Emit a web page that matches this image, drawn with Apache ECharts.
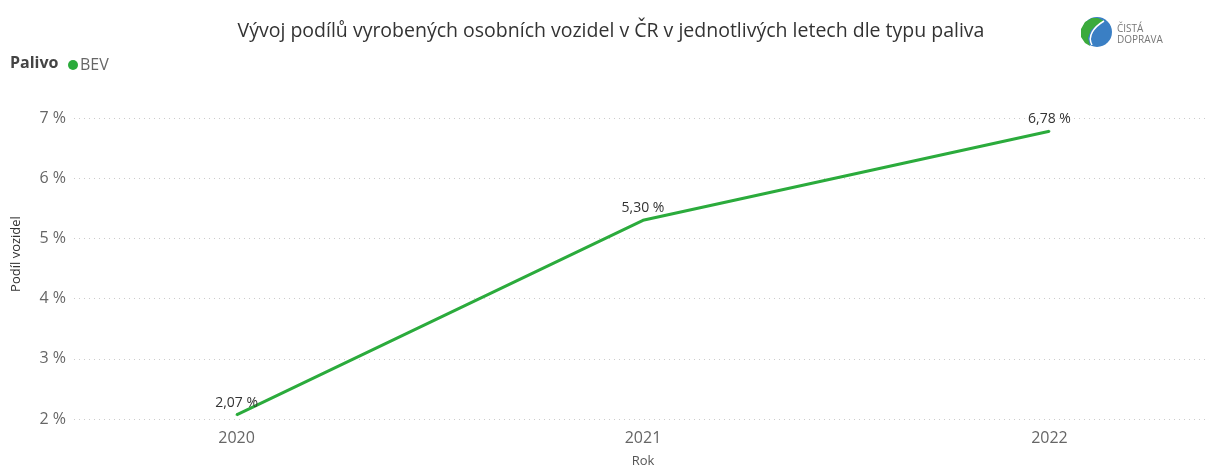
<!DOCTYPE html>
<html>
<head>
<meta charset="utf-8">
<script src="https://cdn.jsdelivr.net/npm/echarts@6/dist/echarts.min.js"></script>
<style>
  html, body { margin: 0; padding: 0; background: #fff; }
  #chart { width: 1208px; height: 466px; }
</style>
</head>
<body>
<div id="chart"></div>
<script>
  // data
  const years = [2020, 2021, 2022];
  const bevShare = [2.07, 5.30, 6.78];
  const yTicks = [2, 3, 4, 5, 6, 7];

  const fmt = v => v.toFixed(2).replace('.', ',') + ' %';
  const font = '"Open Sans", "Noto Sans", sans-serif';

  const chart = echarts.init(document.getElementById('chart'));
  const option = {
    animation: false,
    textStyle: { fontFamily: font },
    title: {
      text: 'Vývoj podílů vyrobených osobních vozidel v ČR v jednotlivých letech dle typu paliva',
      left: 606, top: 16, textAlign: 'center',
      textStyle: { fontSize: 19.5, fontWeight: 'normal', color: '#333', fontFamily: font }
    },
    legend: {
      left: 63, top: 52,
      icon: 'circle', itemWidth: 10, itemHeight: 10, itemGap: 4,
      textStyle: { fontSize: 16, color: '#666', padding: [0, 0, 0, -3] },
      data: ['BEV']
    },
    graphic: [
      { type: 'text', left: 10, top: 55, style: { text: 'Palivo', font: 'bold 16px ' + font, fill: '#444' } },
      { type: 'text', x: 16, y: 254, rotation: Math.PI / 2,
        style: { text: 'Podíl vozidel', font: '13px ' + font, fill: '#333', align: 'center', verticalAlign: 'middle' } },
      // logo
      { type: 'circle', shape: { cx: 1097, cy: 32, r: 15 }, style: { fill: '#3a7fc4' } },
      { type: 'polygon', shape: { points: [[1092, 18], [1085, 22], [1081, 29], [1081, 37], [1085, 43], [1090, 46], [1088, 38], [1091, 30], [1097, 25], [1104, 21], [1098, 18]] }, style: { fill: '#3caa3c' } },
      { type: 'bezierCurve', shape: { x1: 1104, y1: 21, cpx1: 1094, cpy1: 27, cpx2: 1087, cpy2: 36, x2: 1092, y2: 45 }, style: { stroke: '#fff', lineWidth: 1.5, fill: null } },
      { type: 'text', left: 1117, top: 24, style: { text: 'ČISTÁ', font: '10px ' + font, fill: '#777' } },
      { type: 'text', left: 1117, top: 35, style: { text: 'DOPRAVA', font: '10px ' + font, fill: '#777' } }
    ],
    grid: { left: 74, right: -4, top: 118, bottom: 47, outerBoundsMode: 'none', containLabel: false },
    xAxis: {
      type: 'value',
      min: 2019.6, max: 2022.4,
      name: 'Rok', nameLocation: 'middle', nameGap: 36,
      nameTextStyle: { fontSize: 13, color: '#555' },
      axisLine: { show: false },
      axisTick: { show: false },
      splitLine: { show: false },
      axisLabel: {
        customValues: years,
        fontSize: 16, color: '#666', margin: 11,
        formatter: v => String(v)
      }
    },
    yAxis: {
      type: 'value',
      min: yTicks[0], max: yTicks[yTicks.length - 1], interval: 1,
      axisLine: { show: false },
      axisTick: { show: false },
      axisLabel: { fontSize: 16, color: '#666', margin: 8, formatter: v => v + ' %' },
      splitLine: { lineStyle: { type: [1, 4], color: '#ccc', width: 1 } }
    },
    series: [{
      name: 'BEV',
      type: 'line',
      data: years.map((y, i) => [y, bevShare[i]]),
      color: '#2bab3c',
      lineStyle: { width: 3 },
      showSymbol: true,
      symbol: 'circle',
      symbolSize: 2,
      label: {
        show: true, position: 'top', distance: 4,
        fontSize: 14, color: '#333',
        formatter: p => fmt(p.value[1])
      }
    }]
  };
  chart.setOption(option);
</script>
</body>
</html>
